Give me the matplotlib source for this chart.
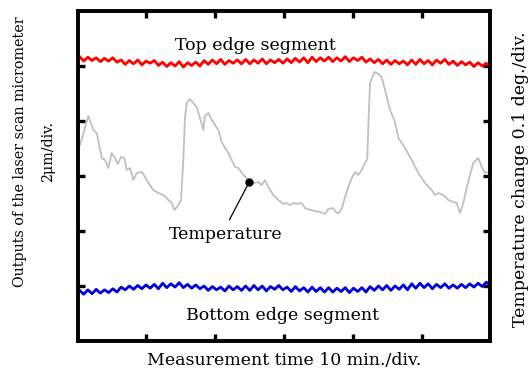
import matplotlib
matplotlib.use("Agg")
import matplotlib.pyplot as plt
import numpy as np

plt.rcParams['font.family'] = ['DejaVu Serif']

# edge segments, in divisions (6 div on each axis)
red_y = [5.17, 5.09, 5.16, 5.10, 5.15, 5.08, 5.14, 5.09, 5.15, 5.07,
         5.11, 5.03, 5.10, 5.04, 5.11, 5.02, 5.09, 5.05, 5.10, 5.01,
         5.07, 4.99, 5.06, 5.00, 5.08, 4.98, 5.06, 5.01, 5.07, 5.00,
         5.10, 5.03, 5.11, 5.04, 5.12, 5.03, 5.10, 5.05, 5.11, 5.04,
         5.12, 5.04, 5.11, 5.05, 5.13, 5.04, 5.11, 5.06, 5.12, 5.05,
         5.13, 5.06, 5.14, 5.07, 5.15, 5.06, 5.16, 5.08, 5.15, 5.09,
         5.16, 5.08, 5.15, 5.09, 5.17, 5.08, 5.15, 5.10, 5.16, 5.07,
         5.13, 5.06, 5.12, 5.04, 5.11, 5.03, 5.10, 5.04, 5.09, 5.02,
         5.11, 5.03, 5.12, 5.04, 5.10, 5.02, 5.11, 5.05, 5.12, 5.03,
         5.09, 5.01, 5.08, 5.02, 5.07, 4.99, 5.06, 5.00, 5.05, 4.98]

blue_y = [0.92, 0.85, 0.93, 0.86, 0.94, 0.87, 0.93, 0.88, 0.95, 0.89,
          0.98, 0.93, 1.00, 0.94, 1.01, 0.95, 1.02, 0.96, 1.03, 0.95,
          1.05, 0.97, 1.04, 0.98, 1.06, 0.97, 1.03, 0.96, 1.02, 0.95,
          1.00, 0.92, 0.99, 0.93, 0.98, 0.91, 1.00, 0.93, 0.99, 0.92,
          1.00, 0.92, 1.01, 0.93, 1.00, 0.91, 0.99, 0.94, 1.01, 0.93,
          0.98, 0.90, 0.99, 0.91, 0.97, 0.89, 0.98, 0.90, 0.97, 0.89,
          0.97, 0.89, 0.96, 0.90, 0.97, 0.88, 0.96, 0.90, 0.97, 0.89,
          0.99, 0.92, 1.00, 0.93, 1.01, 0.92, 1.00, 0.94, 1.02, 0.93,
          1.04, 0.96, 1.05, 0.97, 1.04, 0.95, 1.03, 0.97, 1.04, 0.96,
          1.02, 0.96, 1.03, 0.97, 1.04, 0.98, 1.05, 0.99, 1.07, 1.01]

edge_t = np.linspace(0.03, 6.0, len(red_y))

# temperature trace
temp_t = [0.036, 0.157, 0.230, 0.279, 0.352, 0.400, 0.447, 0.497, 0.545, 0.584,
          0.632, 0.680, 0.715, 0.763, 0.811, 0.860, 0.933, 0.981, 1.029, 1.101,
          1.174, 1.247, 1.319, 1.369, 1.406, 1.465, 1.504, 1.537, 1.562, 1.587,
          1.635, 1.682, 1.732, 1.780, 1.828, 1.852, 1.900, 1.950, 1.998, 2.046,
          2.095, 2.143, 2.191, 2.240, 2.288, 2.336, 2.409, 2.481, 2.554, 2.627,
          2.676, 2.724, 2.772, 2.845, 2.917, 2.990, 3.039, 3.087, 3.135, 3.185,
          3.257, 3.305, 3.378, 3.451, 3.523, 3.596, 3.644, 3.716, 3.766, 3.799,
          3.847, 3.886, 3.934, 3.984, 4.032, 4.080, 4.129, 4.177, 4.210, 4.225,
          4.250, 4.312, 4.370, 4.420, 4.468, 4.540, 4.613, 4.661, 4.758, 4.855,
          4.951, 5.049, 5.146, 5.194, 5.242, 5.315, 5.387, 5.460, 5.509, 5.557,
          5.605, 5.654, 5.702, 5.750, 5.823, 5.872, 5.920, 5.968]
temp_y = [3.564, 4.091, 3.836, 3.782, 3.327, 3.291, 3.145, 3.418, 3.327, 3.218,
          3.345, 3.327, 3.109, 3.145, 2.927, 3.055, 3.073, 2.982, 2.873, 2.745,
          2.691, 2.655, 2.564, 2.509, 2.382, 2.473, 2.564, 3.291, 4.073, 4.327,
          4.400, 4.327, 4.255, 4.055, 3.836, 4.091, 4.145, 4.018, 3.927, 3.836,
          3.618, 3.509, 3.418, 3.291, 3.164, 3.145, 3.018, 2.927, 2.873, 2.891,
          2.836, 2.927, 2.800, 2.655, 2.564, 2.491, 2.509, 2.473, 2.509, 2.491,
          2.509, 2.418, 2.382, 2.364, 2.345, 2.309, 2.400, 2.418, 2.327, 2.327,
          2.436, 2.618, 2.800, 2.964, 3.073, 3.018, 3.109, 3.236, 3.309, 3.891,
          4.691, 4.891, 4.855, 4.800, 4.564, 4.200, 3.982, 3.691, 3.509, 3.291,
          3.055, 2.873, 2.745, 2.655, 2.691, 2.655, 2.564, 2.527, 2.509, 2.327,
          2.509, 2.782, 3.018, 3.236, 3.327, 3.164, 3.055, 3.073]

marker_t, marker_y = 2.495, 2.891

fig = plt.figure(figsize=(5.31, 3.76), dpi=100)
ax = fig.add_axes([0.146, 0.0931, 0.7777, 0.8776])

ax.plot(temp_t, temp_y, color='#c0c0c0', lw=1.3)
ax.plot(edge_t, red_y, color='#ff0000', lw=2.0)
ax.plot(edge_t, blue_y, color='#0000dd', lw=2.0)
ax.plot(marker_t, marker_y, 'o', color='black', ms=5)

fs = 12.5
ax.annotate('Temperature', xy=(marker_t, marker_y), xytext=(2.157, 1.93),
            ha='center', va='center', fontsize=fs,
            arrowprops=dict(arrowstyle='-', lw=0.9, color='black',
                            shrinkA=3, shrinkB=2, relpos=(0.5, 1.0)))
ax.text(2.58, 5.38, 'Top edge segment', ha='center', va='center', fontsize=fs)
ax.text(2.98, 0.455, 'Bottom edge segment', ha='center', va='center', fontsize=fs)

ax.set_xlim(0, 6)
ax.set_ylim(0, 6)
ax.set_xticks(range(1, 6))
ax.set_yticks(range(1, 6))
ax.tick_params(direction='in', length=5, width=2.4, top=True, right=True,
               labelbottom=False, labelleft=False)
for s in ax.spines.values():
    s.set_linewidth(2.8)

ax.set_xlabel('Measurement time 10 min./div.', fontsize=fs, labelpad=8)
fig.text(0.064, 0.596, 'Outputs of the laser scan micrometer\n2μm/div.',
         rotation=90, ha='center', va='center', fontsize=10.3, linespacing=2.2)
fig.text(0.980, 0.524, 'Temperature change 0.1 deg./div.', rotation=90,
         ha='center', va='center', fontsize=12.5)

fig.savefig('out.png', dpi=100)
